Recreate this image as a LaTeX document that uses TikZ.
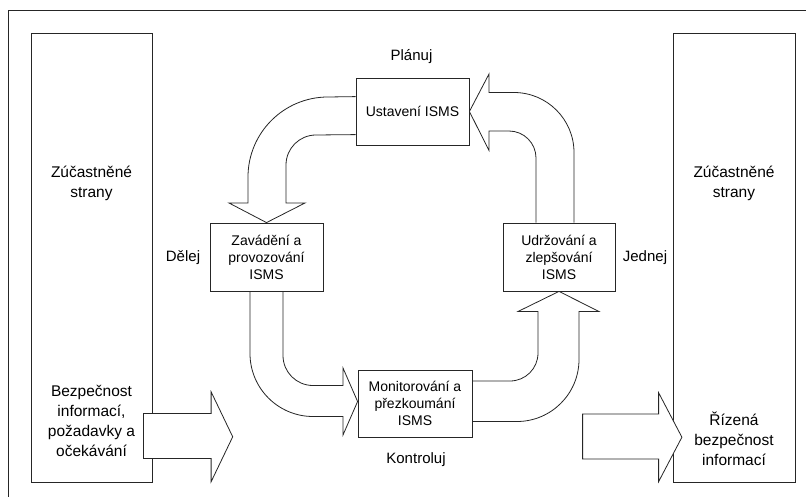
\documentclass[tikz,border=0pt]{standalone}
\usepackage{fontspec}
\setmainfont{Liberation Sans}
\usetikzlibrary{calc,backgrounds}
\definecolor{isline}{HTML}{262626}
\tikzset{
  sidebox/.style={draw=isline, line width=0.8pt, minimum width=121pt,
    minimum height=449pt, inner sep=0pt},
  stepbox/.style={draw=isline, line width=0.8pt, fill=white, align=center,
    minimum width=113pt, minimum height=67pt, inner sep=0pt,
    font=\fontsize{14}{17}\selectfont},
  sidetext/.style={align=center, inner sep=0pt, font=\fontsize{15.5}{20}\selectfont},
  phase/.style={inner sep=0pt, font=\fontsize{15}{18}\selectfont},
  blockarrow/.style={draw=isline, line width=0.8pt, fill=white, line join=miter}
}

\begin{document}
\begin{tikzpicture}[x=1pt, y=-1pt]
  \useasboundingbox (0,0) rectangle (806,497);
  \clip (0,0) rectangle (806,497);
  \draw[isline, line width=0.8pt] (8,10) rectangle (830,520);

  % stakeholders on both sides
  \node[sidebox] (stakeL) at (91.5,257.5) {};
  \node[sidebox, minimum width=122pt] (stakeR) at (734,257.5) {};
  \node[sidetext] (partyL) at (91.5,183) {Zúčastněné\\strany};
  \node[sidetext] (partyR) at (734,183) {Zúčastněné\\strany};
  \node[sidetext] (needs) at (91.5,421) {Bezpečnost\\informací,\\požadavky a\\očekávání};
  \node[sidetext] (managed) at (734,439) {Řízená\\bezpečnost\\informací};

  \path[blockarrow] ($(stakeL.east)+(-9,156)$) -- ++(67.7,0) -- ++(0,-21.7)
    -- ++(21.6,45) -- ++(-21.6,45) -- ++(0,-23.3) -- ++(-67.7,0) -- cycle;
  \path[blockarrow] ($(stakeR.west)+(-90,156.5)$) -- ++(76,0) -- ++(0,-21.3)
    -- ++(23.3,44.5) -- ++(-23.3,44.5) -- ++(0,-22.7) -- ++(-76,0) -- cycle;

  % PDCA steps
  \node[stepbox] (establish) at (412.5,111.5) {Ustavení ISMS};
  \node[stepbox, minimum height=68pt] (implement) at (266.5,257) {Zavádění a\\provozování\\ISMS};
  \node[stepbox, minimum width=112pt, minimum height=68pt] (maintain) at (559,257) {Udržování a\\zlepšování\\ISMS};
  \node[stepbox, minimum width=114pt] (monitor) at (415,403.5) {Monitorování a\\přezkoumání\\ISMS};

  \node[phase] (plan) at (411.5,57) {Plánuj};
  \node[phase] (do) at (183,258) {Dělej};
  \node[phase] (act) at (645,258) {Jednej};
  \node[phase] (check) at (416,460) {Kontroluj};

  \begin{scope}[on background layer]
    % plan -> do
    \path[blockarrow] ($(establish.north west)+(0,19)$) -- (328,97)
      .. controls (283.8,97) and (248,132.8) .. (248,177) -- (248,203)
      -- (229,203) -- (implement.north) -- (305,203) -- (286,203) -- (286,165)
      .. controls (286,148.4) and (299.4,135) .. (316,135)
      -- ($(establish.north west)+(0,57)$);
    % do -> check
    \path[blockarrow] ($(implement.south)+(-16.5,0)$) -- (250,353.5)
      .. controls (250,388.3) and (278.2,416.5) .. (313,416.5) -- (343,416.5)
      -- (343,435) -- ($(monitor.west)+(0,-2)$) -- (343,368) -- (343,385.5)
      -- (313,385.5) .. controls (296.4,385.5) and (283,372.1) .. (283,355.5)
      -- ($(implement.south)+(16.5,0)$);
    % check -> act
    \path[blockarrow] ($(monitor.east)+(0,18)$) -- (517,421.5)
      .. controls (551.2,421.5) and (579,393.7) .. (579,359.5) -- (579,311.5)
      -- (599,311.5) -- (maintain.south) -- (518,311.5) -- (538,311.5)
      -- (538,353) .. controls (538,368.5) and (525.5,381) .. (510,381)
      -- ($(monitor.east)+(0,-22.5)$);
    % act -> plan
    \path[blockarrow] ($(maintain.north)+(15,0)$) -- (574,152.5)
      .. controls (574,119.4) and (547.1,92.5) .. (514,92.5) -- (489,92.5)
      -- (489,74) -- (establish.east) -- (489,150.5) -- (489,131)
      -- (509,131) .. controls (523.9,131) and (536,143.1) .. (536,158)
      -- ($(maintain.north)+(-23,0)$);
  \end{scope}
\end{tikzpicture}
\end{document}
